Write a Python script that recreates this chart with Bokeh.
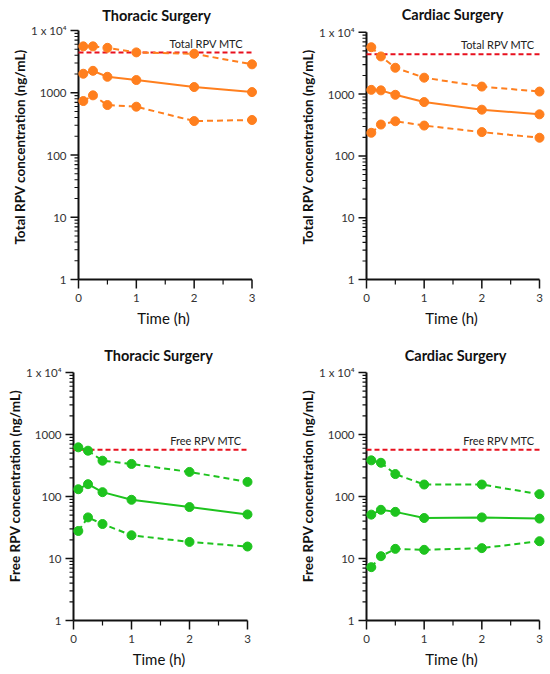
from bokeh.plotting import figure
from bokeh.layouts import column, row
from bokeh.models import FixedTicker, Label, Range1d
from bokeh.embed import file_html
from bokeh.resources import INLINE

# ---------------- data ----------------
time_h = [0.083, 0.25, 0.5, 1, 2, 3]
mtc_span = [0, 3]

# Thoracic surgery, total RPV (ng/mL)
tt_upper = [5560, 5560, 5270, 4450, 4230, 2860]
tt_median = [2020, 2250, 1805, 1600, 1235, 1025]
tt_lower = [736, 908, 635, 597, 351, 365]

# Cardiac surgery, total RPV (ng/mL)
ct_upper = [5740, 4070, 2670, 1845, 1325, 1100]
ct_median = [1172, 1150, 975, 744, 560, 471]
ct_lower = [237, 322, 364, 310, 243, 197]

# Thoracic surgery, free RPV (ng/mL)
tf_upper = [621, 548, 378, 335, 249, 172]
tf_median = [131, 158, 117.5, 88.5, 67.6, 51.4]
tf_lower = [27.8, 46, 36, 23.7, 18.5, 15.6]

# Cardiac surgery, free RPV (ng/mL)
cf_upper = [383, 350, 230, 156, 156, 109]
cf_median = [51, 61, 56.5, 45, 46, 44]
cf_lower = [7.25, 10.9, 14.3, 13.8, 14.7, 19.0]

total_mtc = 4430
free_mtc = 570

y_ticks = [1, 10, 100, 1000, 10000]
y_tick_labels = ["1", "10", "100", "1000", "1 x 10\u2074"]
y_minor_ticks = [m * d for d in y_ticks[:-1] for m in range(2, 10)]
x_ticks = [0, 1, 2, 3]
x_minor_ticks = [0.5, 1.5, 2.5]

ORANGE = "#FF7F1E"
GREEN = "#1EC31E"
RED = "#E8101E"
INK = "#111111"
FONT = "Lato"

FIG_W, FIG_H = 275, 337
Y_MAJ, Y_MIN = 8, 4      # tick lengths (px) on the y axis
X_MAJ, X_MIN = 9, 5      # tick lengths (px) on the x axis
PAD_L, PAD_B, PAD_R, PAD_T = 9, 10, 6, 4


def make_panel(title, ylabel, upper, median, lower, mtc, mtc_text, color,
               fig_xy, x0_px, x3_px, ytop_px, ybot_px, title_px, mtc_dx):
    fx, fy = fig_xy
    ppu = (x3_px - x0_px) / 3.0          # px per hour
    ppd = (ybot_px - ytop_px) / 4.0      # px per decade
    bl = int(round(x0_px - PAD_L - fx))
    br = int(round(fx + FIG_W - (x3_px + PAD_R)))
    bt = PAD_T
    bb = int(round(fy + FIG_H - (ybot_px + PAD_B)))
    fw = FIG_W - bl - br
    left_px = fx + bl
    x_start = -(x0_px - left_px) / ppu
    x_end = x_start + fw / ppu
    y_start = 10 ** (-PAD_B / ppd)
    y_end = 10 ** (4 + (ytop_px - fy - bt) / ppd)

    p = figure(width=FIG_W, height=FIG_H, y_axis_type="log",
               x_range=Range1d(x_start, x_end), y_range=Range1d(y_start, y_end),
               output_backend="svg", toolbar_location=None,
               min_border_left=bl, min_border_top=bt,
               min_border_right=br, min_border_bottom=bb)
    p.outline_line_color = None
    p.xgrid.visible = False
    p.ygrid.visible = False

    # axes carry the labels; axis lines and ticks are drawn below
    p.yaxis.ticker = FixedTicker(ticks=y_ticks)
    p.yaxis.major_label_overrides = {t: s for t, s in zip(y_ticks, y_tick_labels)}
    p.xaxis.ticker = FixedTicker(ticks=x_ticks)
    for ax in (p.xaxis[0], p.yaxis[0]):
        ax.axis_line_color = None
        ax.major_tick_line_color = None
        ax.minor_tick_line_color = None
        ax.major_tick_in = 0
        ax.major_tick_out = 0
        ax.major_label_text_font = FONT
        ax.major_label_text_font_size = "11.5px"
        ax.major_label_text_color = "#333333"
        ax.axis_label_text_font = FONT
        ax.axis_label_text_color = INK

    p.xaxis.major_label_standoff = 4
    p.xaxis.axis_label = "Time (h)"
    p.xaxis.axis_label_text_font_size = "15px"
    p.xaxis.axis_label_text_font_style = "normal"
    p.xaxis.axis_label_standoff = 4

    p.yaxis.major_label_standoff = 3
    p.yaxis.axis_label = ylabel
    p.yaxis.axis_label_text_font_size = "13.5px"
    p.yaxis.axis_label_text_font_style = "bold"
    p.yaxis.axis_label_standoff = 0

    # axis lines
    p.segment(x0=[0], y0=[y_ticks[0]], x1=[0], y1=[y_ticks[-1]],
              line_color=INK, line_width=2)
    p.segment(x0=[x_ticks[0]], y0=[1], x1=[x_ticks[-1]], y1=[1],
              line_color=INK, line_width=2)
    # y ticks
    p.multi_line(xs=[[-Y_MAJ / ppu, 0] for _ in y_ticks], ys=[[t, t] for t in y_ticks],
                 line_color=INK, line_width=1.5)
    p.multi_line(xs=[[-Y_MIN / ppu, 0] for _ in y_minor_ticks],
                 ys=[[t, t] for t in y_minor_ticks], line_color=INK, line_width=1.1)
    # x ticks
    p.segment(x0=x_ticks, y0=[1] * len(x_ticks), x1=x_ticks,
              y1=[10 ** (-X_MAJ / ppd)] * len(x_ticks), line_color=INK, line_width=1.5)
    p.segment(x0=x_minor_ticks, y0=[1] * len(x_minor_ticks), x1=x_minor_ticks,
              y1=[10 ** (-X_MIN / ppd)] * len(x_minor_ticks), line_color=INK, line_width=1.2)

    # panel title
    tx, ty = title_px
    p.add_layout(Label(x=(tx - x0_px) / ppu, y=10 ** (4 + (ytop_px - ty) / ppd),
                       text=title, text_align="center", text_baseline="middle",
                       text_font=FONT, text_font_size="14.5px", text_font_style="bold",
                       text_color=INK))

    # MTC threshold
    p.line(mtc_span, [mtc, mtc], line_color=RED, line_width=2, line_dash="5 3")
    p.add_layout(Label(x=3, y=mtc, x_offset=-mtc_dx, y_offset=3,
                       text=mtc_text, text_align="right", text_baseline="bottom",
                       text_font=FONT, text_font_size="11px", text_color="#222222"))

    for vals, dash in ((upper, "6 4"), (median, "solid"), (lower, "6 4")):
        p.line(time_h, vals, line_color=color, line_width=2, line_dash=dash)
        p.scatter(time_h, vals, size=9, fill_color=color, line_color=color)
    return p


p1 = make_panel("Thoracic Surgery", "Total RPV concentration (ng/mL)",
                tt_upper, tt_median, tt_lower, total_mtc, "Total RPV MTC", ORANGE,
                (0, 0), 78, 251.5, 30, 279, (156, 15), 9)
p2 = make_panel("Cardiac Surgery", "Total RPV concentration (ng/mL)",
                ct_upper, ct_median, ct_lower, total_mtc, "Total RPV MTC", ORANGE,
                (275, 0), 366, 539, 32, 281, (452, 14), 5)
p3 = make_panel("Thoracic Surgery", "Free RPV concentration (ng/mL)",
                tf_upper, tf_median, tf_lower, free_mtc, "Free RPV MTC", GREEN,
                (0, 337), 73, 247, 372, 620, (158, 355), 6)
p4 = make_panel("Cardiac Surgery", "Free RPV concentration (ng/mL)",
                cf_upper, cf_median, cf_lower, free_mtc, "Free RPV MTC", GREEN,
                (275, 337), 366, 539, 372, 620, (455, 355), 5)

layout = column(row(p1, p2), row(p3, p4))

open("out.html", "w").write(file_html(layout, INLINE))
